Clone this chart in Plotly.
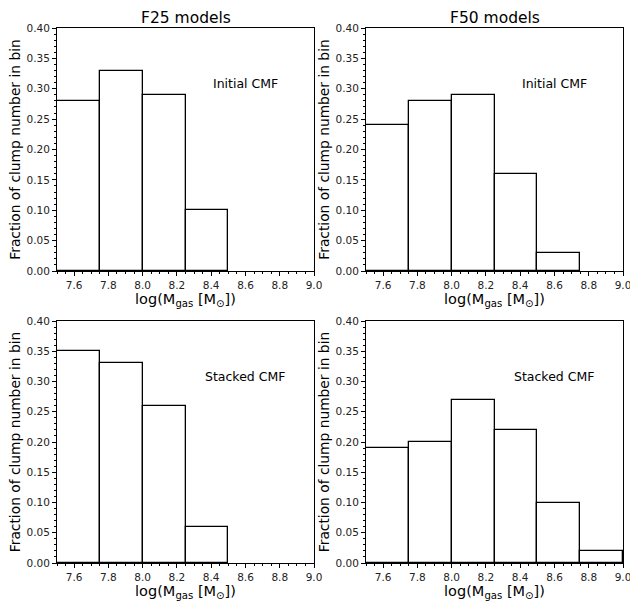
import plotly.graph_objects as go

bin_left = [7.5, 7.75, 8.0, 8.25, 8.5, 8.75]
bin_width = 0.25

f25_initial = [0.28, 0.33, 0.29, 0.10, 0.0, 0.0]
f50_initial = [0.24, 0.28, 0.29, 0.16, 0.03, 0.0]
f25_stacked = [0.35, 0.33, 0.26, 0.06, 0.0, 0.0]
f50_stacked = [0.19, 0.20, 0.27, 0.22, 0.10, 0.02]

col_titles = ["F25 models", "F50 models"]
panel_labels = ["Initial CMF", "Initial CMF", "Stacked CMF", "Stacked CMF"]
y_ticks = [0.0, 0.05, 0.10, 0.15, 0.20, 0.25, 0.30, 0.35, 0.40]
x_ticks = [7.6, 7.8, 8.0, 8.2, 8.4, 8.6, 8.8, 9.0]

W, H = 630, 601
FONT = "DejaVu Sans, sans-serif"

panels = [
    (f25_initial, (57, 314), (28, 271)),
    (f50_initial, (366, 623), (28, 271)),
    (f25_stacked, (57, 314), (321, 563)),
    (f50_stacked, (366, 623), (321, 563)),
]

fig = go.Figure()
layout = dict(
    width=W, height=H,
    margin=dict(l=0, r=0, t=0, b=0, autoexpand=False),
    plot_bgcolor="white", paper_bgcolor="white",
    showlegend=False, bargap=0,
    font=dict(family=FONT, color="black"),
)

centers = [b + bin_width / 2 for b in bin_left]
annotations = []
for i, (vals, (x0, x1), (y0, y1)) in enumerate(panels):
    n = i + 1
    xa = "x" if n == 1 else f"x{n}"
    ya = "y" if n == 1 else f"y{n}"
    xs = [c for c, v in zip(centers, vals) if v > 0]
    ys = [v for v in vals if v > 0]
    fig.add_trace(go.Bar(
        x=xs, y=ys, width=bin_width, xaxis=xa, yaxis=ya,
        marker=dict(color="white", line=dict(color="black", width=1.3)),
        hoverinfo="skip",
    ))
    xdom = [x0 / W, x1 / W]
    ydom = [1 - y1 / H, 1 - y0 / H]
    axcommon = dict(
        showline=True, linecolor="black", linewidth=1, mirror=True,
        ticks="outside", ticklen=4, tickwidth=1, tickcolor="black",
        showgrid=False, zeroline=False, automargin=False,
        ticklabeloverflow="allow",
        tickfont=dict(size=10.5, family=FONT, color="#222"),
    )
    layout["xaxis" + ("" if n == 1 else str(n))] = dict(
        domain=xdom, anchor=ya, range=[7.5, 9.0],
        tickmode="array", tickvals=x_ticks, ticktext=[f"{t:.1f}" for t in x_ticks],
        minor=dict(ticks="outside", ticklen=2, tickmode="linear", dtick=0.05, tick0=7.5,
                   tickcolor="black", tickwidth=1),
        title=dict(text="log(M<sub>gas</sub> [M<sub>\u2299</sub>])",
                   font=dict(size=14.5, family=FONT), standoff=4),
        **axcommon,
    )
    layout["yaxis" + ("" if n == 1 else str(n))] = dict(
        domain=ydom, anchor=xa, range=[0, 0.4],
        tickmode="array", tickvals=y_ticks, ticktext=[f"{t:.2f}" for t in y_ticks],
        minor=dict(ticks="outside", ticklen=2, tickmode="linear", dtick=0.01, tick0=0,
                   tickcolor="black", tickwidth=1),
        title=dict(text="Fraction of clump number in bin",
                   font=dict(size=13.8, family=FONT), standoff=2),
        **axcommon,
    )
    annotations.append(dict(
        x=8.6, y=0.308, xref=xa, yref=ya, text=panel_labels[i],
        showarrow=False, font=dict(size=12.5, family=FONT),
        xanchor="center", yanchor="middle",
    ))

for t, cx in zip(col_titles, [185.5, 494.5]):
    annotations.append(dict(
        x=cx / W, y=1 - 18 / H, xref="paper", yref="paper", text=t,
        showarrow=False, font=dict(size=15.5, family=FONT),
        xanchor="center", yanchor="middle",
    ))

layout["annotations"] = annotations
fig.update_layout(**layout)
fig.write_html("out.html", config={"displayModeBar": False},
               post_script="document.body.style.margin='0';document.body.style.overflow='hidden';")
